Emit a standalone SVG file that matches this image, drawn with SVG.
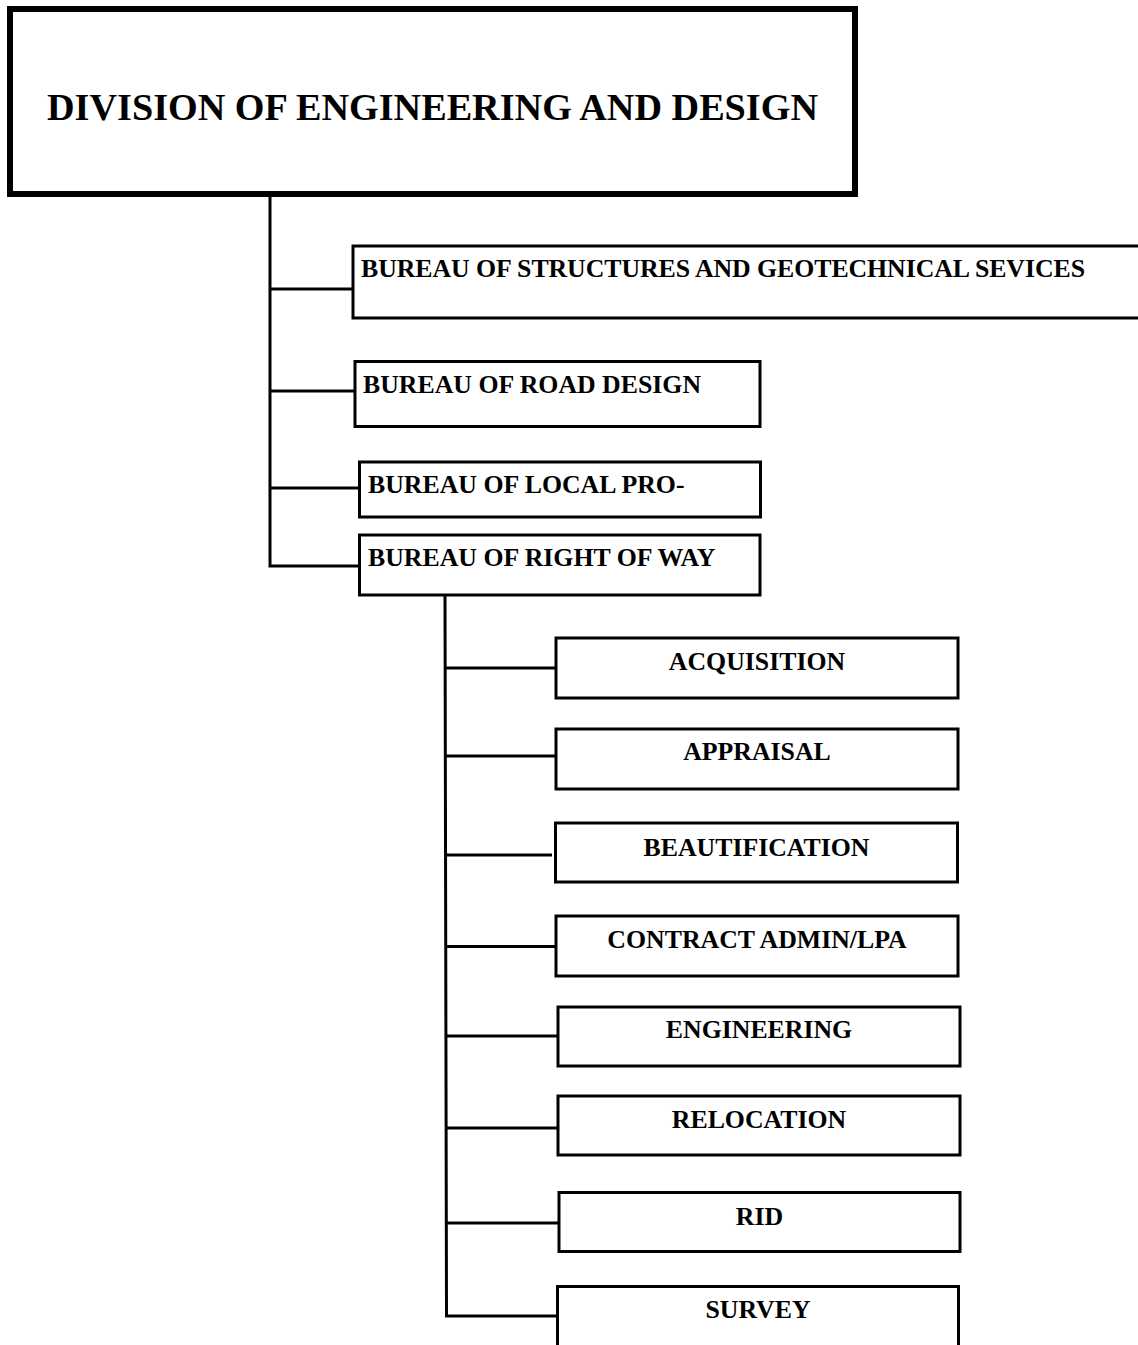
<svg xmlns="http://www.w3.org/2000/svg" width="1138" height="1345" viewBox="0 0 1138 1345">
<style>
.box{fill:#fff;stroke:#000;stroke-width:3}
.top{fill:#fff;stroke:#000;stroke-width:6}
.t{font-family:"Liberation Serif","Times New Roman",serif;font-weight:bold;font-size:25.8px;fill:#000}
.c{text-anchor:middle}
.title{font-family:"Liberation Serif","Times New Roman",serif;font-weight:bold;font-size:38.2px;fill:#000;text-anchor:middle}
.ln{fill:none;stroke:#000;stroke-width:3}
</style>
<rect width="1138" height="1345" fill="#fff"/>
<g id="connectors">
<polyline class="ln" points="270,194 270,566 359,566"/>
<line class="ln" x1="270" y1="289" x2="353" y2="289"/>
<line class="ln" x1="270" y1="391" x2="355" y2="391"/>
<line class="ln" x1="270" y1="488" x2="359" y2="488"/>
<polyline class="ln" points="445,595 446.5,1316 557,1316"/>
<line class="ln" x1="446" y1="668" x2="556" y2="668"/>
<line class="ln" x1="446" y1="756" x2="556" y2="756"/>
<line class="ln" x1="446" y1="855" x2="552" y2="855"/>
<line class="ln" x1="446" y1="946.5" x2="556" y2="946.5"/>
<line class="ln" x1="446" y1="1036" x2="558" y2="1036"/>
<line class="ln" x1="446" y1="1128" x2="558" y2="1128"/>
<line class="ln" x1="446" y1="1223" x2="559" y2="1223"/>
</g>
<g id="division">
<rect class="top" x="10" y="9" width="845" height="185"/>
<text class="title" x="432.5" y="120">DIVISION OF ENGINEERING AND DESIGN</text>
</g>
<g id="structures">
<rect class="box" x="353" y="246" width="800" height="72"/>
<text class="t" x="361" y="277" textLength="724" lengthAdjust="spacing">BUREAU OF STRUCTURES AND GEOTECHNICAL SEVICES</text>
</g>
<g id="road-design">
<rect class="box" x="355" y="361.5" width="405" height="65"/>
<text class="t" x="363" y="393">BUREAU OF ROAD DESIGN</text>
</g>
<g id="local-pro">
<rect class="box" x="359.5" y="462" width="401" height="55"/>
<text class="t" x="368" y="493">BUREAU OF LOCAL PRO-</text>
</g>
<g id="right-of-way">
<rect class="box" x="359.5" y="535" width="400.5" height="60"/>
<text class="t" x="368" y="566">BUREAU OF RIGHT OF WAY</text>
</g>
<g id="acquisition">
<rect class="box" x="556" y="638" width="402" height="60"/>
<text class="t c" x="757" y="670">ACQUISITION</text>
</g>
<g id="appraisal">
<rect class="box" x="556" y="729" width="402" height="60"/>
<text class="t c" x="757" y="760">APPRAISAL</text>
</g>
<g id="beautification">
<rect class="box" x="555.5" y="823" width="402" height="59"/>
<text class="t c" x="756.5" y="856">BEAUTIFICATION</text>
</g>
<g id="contract-admin">
<rect class="box" x="556" y="916" width="402" height="60"/>
<text class="t c" x="757" y="948">CONTRACT ADMIN/LPA</text>
</g>
<g id="engineering">
<rect class="box" x="558" y="1007" width="402" height="59"/>
<text class="t c" x="759" y="1038">ENGINEERING</text>
</g>
<g id="relocation">
<rect class="box" x="558" y="1096" width="402" height="59"/>
<text class="t c" x="759" y="1128">RELOCATION</text>
</g>
<g id="rid">
<rect class="box" x="559" y="1192.5" width="401" height="59"/>
<text class="t c" x="759.5" y="1225">RID</text>
</g>
<g id="survey">
<rect class="box" x="557.5" y="1286.5" width="401" height="70"/>
<text class="t c" x="758" y="1318">SURVEY</text>
</g>
</svg>
